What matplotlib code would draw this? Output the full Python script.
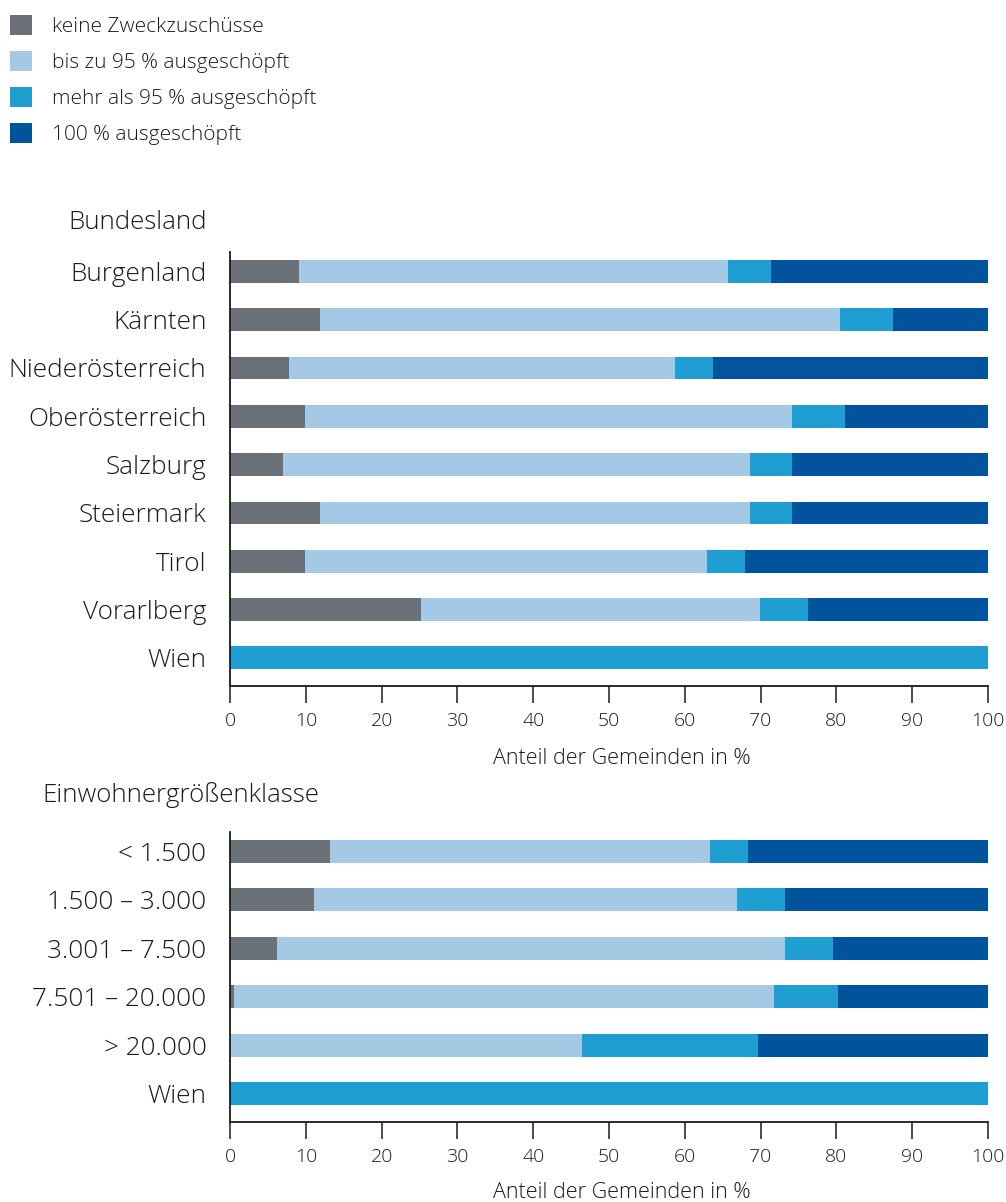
import matplotlib
matplotlib.use("Agg")
import matplotlib.pyplot as plt
import numpy as np

plt.rcParams['font.family'] = ['Open Sans', 'DejaVu Sans']

series_names = ["keine Zweckzuschüsse", "bis zu 95 % ausgeschöpft",
                "mehr als 95 % ausgeschöpft", "100 % ausgeschöpft"]
colors = ["#6A7179", "#A3C9E5", "#1F9FD1", "#00549E"]

laender = ["Burgenland", "Kärnten", "Niederösterreich", "Oberösterreich",
           "Salzburg", "Steiermark", "Tirol", "Vorarlberg", "Wien"]
l_keine = [9.1, 11.9, 7.8, 9.9, 7.0, 11.9, 9.9, 25.2, 0.0]
l_bis95 = [56.6, 68.6, 50.9, 64.2, 61.6, 56.7, 53.0, 44.7, 0.0]
l_mehr95 = [5.7, 7.0, 5.0, 7.0, 5.5, 5.5, 5.0, 6.4, 100.0]
l_100 = [28.6, 12.5, 36.3, 18.9, 25.9, 25.9, 32.1, 23.7, 0.0]

klassen = ["< 1.500", "1.500 – 3.000", "3.001 – 7.500", "7.501 – 20.000",
           "> 20.000", "Wien"]
k_keine = [13.2, 11.1, 6.2, 0.5, 0.0, 0.0]
k_bis95 = [50.1, 55.8, 67.0, 71.3, 46.4, 0.0]
k_mehr95 = [5.0, 6.3, 6.4, 8.4, 23.3, 100.0]
k_100 = [31.7, 26.8, 20.4, 19.8, 30.3, 0.0]

xticks = [0, 10, 20, 30, 40, 50, 60, 70, 80, 90, 100]
xlabel = "Anteil der Gemeinden in %"

W, H = 1006, 1202
fig = plt.figure(figsize=(W / 100, H / 100), dpi=100)
TXT = '#1a1a1a'

def px_axes(x0, y0, x1, y1):
    return fig.add_axes([x0 / W, 1 - y1 / H, (x1 - x0) / W, (y1 - y0) / H])

def draw(ax, cats, data, labelpad):
    y = np.arange(len(cats))
    left = np.zeros(len(cats))
    handles = []
    for vals, c, name in zip(data, colors, series_names):
        b = ax.barh(y, vals, left=left, height=0.475, color=c, label=name,
                    linewidth=0)
        handles.append(b)
        left = left + np.array(vals)
    ax.set_ylim(len(cats) - 1 + 0.58, -0.40)
    ax.set_xlim(0, 100)
    ax.set_yticks(y)
    ax.set_yticklabels(cats, fontsize=18.8, fontweight='light', color=TXT)
    ax.tick_params(axis='y', length=0, pad=17)
    ax.set_xticks(xticks)
    ax.set_xticklabels([str(t) for t in xticks], fontsize=14,
                       fontweight='light', color=TXT)
    ax.tick_params(axis='x', length=12.5, width=1.1, pad=6.5, color=TXT)
    for s in ['top', 'right']:
        ax.spines[s].set_visible(False)
    for s in ['left', 'bottom']:
        ax.spines[s].set_linewidth(1.3)
        ax.spines[s].set_color(TXT)
    ax.set_xlabel(xlabel, fontsize=15.5, fontweight='light', labelpad=labelpad,
                  color=TXT)
    ax.xaxis.label.set_x(0.517)
    return handles

ax1 = px_axes(230, 252, 988, 686)
h = draw(ax1, laender, [l_keine, l_bis95, l_mehr95, l_100], 13)
ax2 = px_axes(230, 832, 988, 1122)
draw(ax2, klassen, [k_keine, k_bis95, k_mehr95, k_100], 11)

fig.text(138 / W, 1 - 222 / H, "Bundesland", fontsize=18.6, fontweight='light',
         ha='center', va='center', color=TXT)
fig.text(181 / W, 1 - 795 / H, "Einwohnergrößenklasse", fontsize=18.6,
         fontweight='light', ha='center', va='center', color=TXT)

fig.legend(handles=h, labels=series_names, loc='upper left',
           bbox_to_anchor=(10 / W, 1 - 15.5 / H), frameon=False,
           prop={'weight': 'light', 'size': 15},
           handlelength=1.06, handleheight=1.06, handletextpad=0.95,
           labelspacing=0.68, borderpad=0, borderaxespad=0,
           labelcolor=TXT)

fig.savefig("out.png", dpi=100)
